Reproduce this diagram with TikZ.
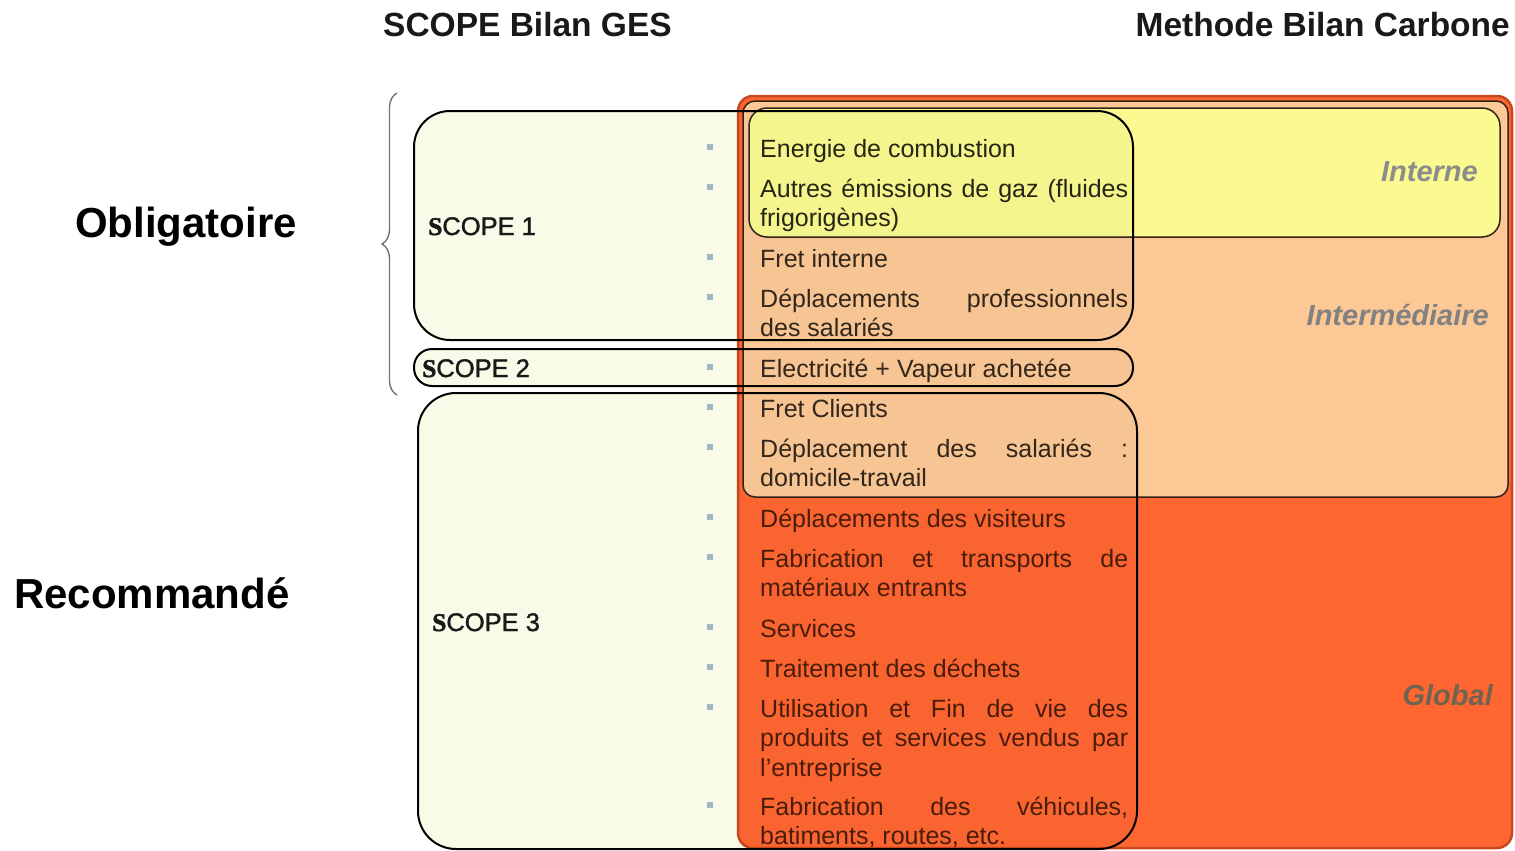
\documentclass[tikz,border=0pt]{standalone}
\usepackage{fontspec}
\setmainfont{Liberation Sans}
\newfontfamily\serifbf[FakeBold=2]{Liberation Serif}
\newfontfamily\scopefont[FakeBold=1.4]{Liberation Sans}
\usetikzlibrary{decorations.pathreplacing}
\definecolor{cream}{RGB}{249,250,232}
\definecolor{globalc}{RGB}{255,102,50}
\definecolor{globalb}{RGB}{200,72,32}
\definecolor{peach}{RGB}{252,200,150}
\definecolor{yell}{RGB}{250,250,145}
\definecolor{boxline}{RGB}{50,35,25}
\definecolor{bulletc}{RGB}{160,184,196}
\definecolor{zonegray}{RGB}{140,140,140}
\definecolor{zoneglob}{RGB}{110,100,80}
\definecolor{txtA}{RGB}{38,38,20}
\definecolor{txtB}{RGB}{51,38,26}
\definecolor{txtC}{RGB}{74,28,10}
\begin{document}
\begin{tikzpicture}[x=1pt,y=-1pt,
  itemtxt/.style={anchor=base west, text width=368pt, align=justify, inner sep=0pt, font=\fontsize{25}{29.5}\selectfont},
  bul/.style={fill=bulletc, minimum size=6pt, inner sep=0pt},
  scopelbl/.style={anchor=base west, inner sep=0pt, font=\fontsize{25.5}{30}\selectfont\scopefont, text=black!90},
  zonelbl/.style={anchor=base east, inner sep=0pt, font=\fontsize{29}{34}\selectfont\bfseries\itshape},
  titlelbl/.style={inner sep=0pt, font=\fontsize{33.5}{40}\selectfont\bfseries, text=black!90},
  sidelbl/.style={anchor=base west, inner sep=0pt, font=\fontsize{42}{50}\selectfont\bfseries},
  scopebox/.style={draw=black, line width=2pt},
]
\useasboundingbox (0,0) rectangle (1515,851);
\fill[white] (0,0) rectangle (1515,851);

% scope fills
\fill[cream, rounded corners=36pt] (414,111) rectangle (1133,340);
\fill[cream, rounded corners=18pt] (414,349) rectangle (1133,386);
\fill[cream, rounded corners=38pt] (418,393) rectangle (1137,849);

% Bilan Carbone zones
\filldraw[fill=globalc, draw=globalb, line width=2.5pt, rounded corners=15pt] (738,96) rectangle (1512,848);
\filldraw[fill=peach, draw=boxline, line width=1.5pt, rounded corners=12pt] (743,101) rectangle (1508,497);
\filldraw[fill=yell, draw=boxline, line width=1.5pt, rounded corners=18pt] (749,108) rectangle (1500,237);

% slight tint where scopes overlap the zones
\begin{scope}
\clip (737,0) rectangle (1515,851);
\fill[black, opacity=0.018, rounded corners=36pt] (414,111) rectangle (1133,340);
\fill[black, opacity=0.018, rounded corners=18pt] (414,349) rectangle (1133,386);
\fill[black, opacity=0.018, rounded corners=38pt] (418,393) rectangle (1137,849);
\end{scope}

% scope outlines
\draw[scopebox, rounded corners=36pt] (414,111) rectangle (1133,340);
\draw[scopebox, rounded corners=18pt] (414,349) rectangle (1133,386);
\draw[scopebox, rounded corners=38pt] (418,393) rectangle (1137,849);

% titles
\node[titlelbl, anchor=base west] (t1) at (383,37) {SCOPE Bilan GES};
\node[titlelbl, anchor=base east] (t2) at (1510,37) {Methode Bilan Carbone};
\node[sidelbl] (ob) at (75,237) {Obligatoire};
\node[sidelbl] (rec) at (14,608) {Recommandé};

% brace
\draw[decorate, decoration={brace, amplitude=15pt}, draw=black!55, line width=1.4pt] (397,395) -- (397,93);

% scope labels
\node[scopelbl] (s1) at (428,235) {{\serifbf\bfseries S}COPE 1};
\node[scopelbl] (s2) at (422,377) {{\serifbf\bfseries S}COPE 2};
\node[scopelbl] (s3) at (432,631) {{\serifbf\bfseries S}COPE 3};

% zone labels
\node[zonelbl, text=zonegray] (zi) at (1478,181) {Interne};
\node[zonelbl, text=zonegray!110] (zm) at (1489,325) {Intermédiaire};
\node[zonelbl, text=zoneglob] (zg) at (1493,705) {Global};

% items
\node[itemtxt, text=txtA] (i1) at (760,157) {Energie de combustion};
\node[itemtxt, text=txtA] (i2) at (760,197) {Autres émissions de gaz (fluides\linebreak frigorigènes)};
\node[itemtxt, text=txtB] (i3) at (760,267) {Fret interne};
\node[itemtxt, text=txtB] (i4) at (760,307) {Déplacements professionnels\linebreak des salariés};
\node[itemtxt, text=txtB] (i5) at (760,377) {Electricité + Vapeur achetée};
\node[itemtxt, text=txtB] (i6) at (760,417) {Fret Clients};
\node[itemtxt, text=txtB] (i7) at (760,457) {Déplacement des salariés :\linebreak domicile-travail};
\node[itemtxt, text=txtC] (i8) at (760,527) {Déplacements des visiteurs};
\node[itemtxt, text=txtC] (i9) at (760,567) {Fabrication et transports de\linebreak matériaux entrants};
\node[itemtxt, text=txtC] (i10) at (760,637) {Services};
\node[itemtxt, text=txtC] (i11) at (760,677) {Traitement des déchets};
\node[itemtxt, text=txtC] (i12) at (760,717) {Utilisation et Fin de vie des\linebreak produits et services vendus par\linebreak l’entreprise};
\node[itemtxt, text=txtC] (i13) at (760,815) {Fabrication des véhicules,\linebreak batiments, routes, etc.};

% bullets
\foreach \n/\yy in {1/147,2/187,3/257,4/297,5/367,6/407,7/447,8/517,9/557,10/627,11/667,12/707,13/805}
  \node[bul] (b\n) at (710,\yy) {};
\end{tikzpicture}
\end{document}
